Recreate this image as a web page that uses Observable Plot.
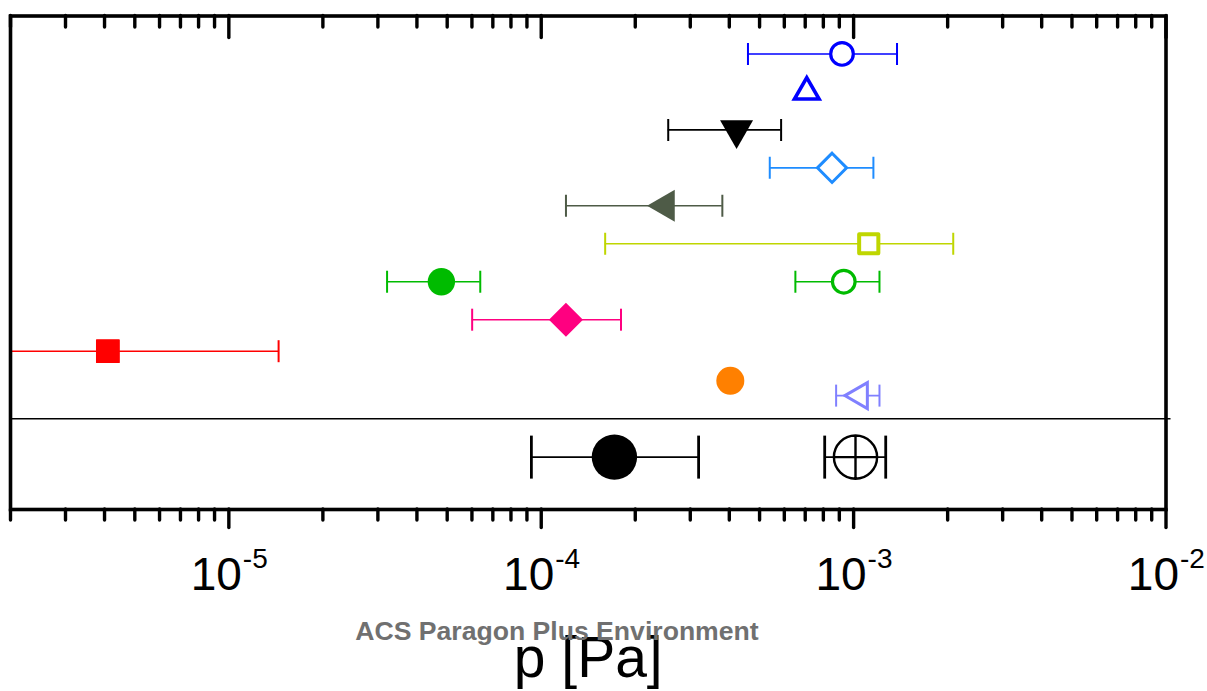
<!DOCTYPE html>
<html>
<head>
<meta charset="utf-8">
<script src="https://cdn.jsdelivr.net/npm/d3@7"></script>
<script src="https://cdn.jsdelivr.net/npm/@observablehq/plot@0.6"></script>
<style>
  html, body { margin: 0; padding: 0; background: #fff; }
  #chart svg { display: block; }
</style>
</head>
<body>
<div id="chart"></div>
<script>
// ---------------- data ----------------
const seriesNames = [
  "blue open circle", "blue open triangle", "black down triangle", "azure open diamond",
  "olive left triangle", "lime open square", "green filled circle", "green open circle",
  "pink filled diamond", "red filled square", "orange filled circle", "lavender open left triangle",
  "black filled circle", "crossed circle"
];
const pressure     = [9.18e-4, 7.08e-4, 4.22e-4, 8.53e-4, 2.50e-4, 1.118e-3, 4.79e-5, 9.30e-4, 1.20e-4, 4.10e-6, 4.03e-4, 1.047e-3, 1.715e-4, 1.014e-3];
const pressureLow  = [4.59e-4, null,    2.55e-4, 5.39e-4, 1.20e-4, 1.602e-4, 3.21e-5, 6.51e-4, 6.01e-5, 1.0e-6,  null,    8.79e-4,  9.30e-5,  8.08e-4];
const pressureHigh = [1.377e-3, null,   5.86e-4, 1.157e-3, 3.80e-4, 2.084e-3, 6.38e-5, 1.21e-3, 1.80e-4, 1.443e-5, null,   1.21e-3,  3.19e-4,  1.267e-3];
const row          = [12, 11, 10, 9, 8, 7, 6, 6, 5, 4.17, 3.39, 3, 1.38, 1.38];
const separatorRow = [2.39];

const majorTicks = [1e-5, 1e-4, 1e-3, 1e-2];
const tickBase = ["10", "10", "10", "10"];
const tickExponents = ["-5", "-4", "-3", "-2"];
const minorMultipliers = [2, 3, 4, 5, 6, 7, 8, 9];
const minorDecades = [1e-6, 1e-5, 1e-4, 1e-3];
const xTitle = "p [Pa]";
const watermark = "ACS Paragon Plus Environment";

// ---------------- symbols ----------------
const R = (size) => Math.sqrt(size / Math.PI);
const capSym = {draw(c, s) { const r = R(s); c.moveTo(0, -r); c.lineTo(0, r); }};
const circleSym = {draw(c, s) { const r = R(s); c.moveTo(r, 0); c.arc(0, 0, r, 0, 2 * Math.PI); c.closePath(); }};
const squareSym = {draw(c, s) { const r = R(s); c.rect(-r, -r, 2 * r, 2 * r); }};
const diamondSym = {draw(c, s) { const r = R(s); c.moveTo(0, -r); c.lineTo(r, 0); c.lineTo(0, r); c.lineTo(-r, 0); c.closePath(); }};
const triUpSym = {draw(c, s) { const r = R(s), h = r * Math.sqrt(3); c.moveTo(0, -2 * h / 3); c.lineTo(r, h / 3); c.lineTo(-r, h / 3); c.closePath(); }};
const triDownSym = {draw(c, s) { const r = R(s), h = r * Math.sqrt(3); c.moveTo(0, 2 * h / 3); c.lineTo(r, -h / 3); c.lineTo(-r, -h / 3); c.closePath(); }};
const triLeftSym = {draw(c, s) { const r = R(s), h = r * Math.sqrt(3); c.moveTo(-2 * h / 3, 0); c.lineTo(h / 3, -r); c.lineTo(h / 3, r); c.closePath(); }};
const circlePlusSym = {draw(c, s) { const r = R(s); c.moveTo(r, 0); c.arc(0, 0, r, 0, 2 * Math.PI); c.closePath(); c.moveTo(0, -r); c.lineTo(0, r); c.moveTo(-r, 0); c.lineTo(r, 0); }};

// styles keyed by series name
const looks = {
  "blue open circle":            {color: "#0000FF", symbol: circleSym,     filled: false, r: 11.3, sw: 3.2, cap: 11},
  "blue open triangle":          {color: "#0000FF", symbol: triUpSym,      filled: false, r: 12.3, sw: 3.6, cap: 11},
  "black down triangle":         {color: "#000000", symbol: triDownSym,    filled: true,  r: 16.5, sw: 0,   cap: 11},
  "azure open diamond":          {color: "#1E8CFF", symbol: diamondSym,    filled: false, r: 14.6, sw: 3.0, cap: 11},
  "olive left triangle":         {color: "#4E5B47", symbol: triLeftSym,    filled: true,  r: 16,   sw: 0,   cap: 11},
  "lime open square":            {color: "#BFD600", symbol: squareSym,     filled: false, r: 9.6,  sw: 4.0, cap: 11, join: "round"},
  "green filled circle":         {color: "#00BB00", symbol: circleSym,     filled: true,  r: 13.7, sw: 0,   cap: 11},
  "green open circle":           {color: "#00BB00", symbol: circleSym,     filled: false, r: 11.3, sw: 3.2, cap: 11},
  "pink filled diamond":         {color: "#FF0080", symbol: diamondSym,    filled: true,  r: 17,   sw: 0,   cap: 11},
  "red filled square":           {color: "#FF0000", symbol: squareSym,     filled: true,  r: 11.3, sw: 1.2, cap: 11, join: "round"},
  "orange filled circle":        {color: "#FF8000", symbol: circleSym,     filled: true,  r: 14,   sw: 0,   cap: 11},
  "lavender open left triangle": {color: "#8080FF", symbol: triLeftSym,    filled: false, r: 13,   sw: 3.0, cap: 11},
  "black filled circle":         {color: "#000000", symbol: circleSym,     filled: true,  r: 22.7, sw: 0,   cap: 21.5, capW: 2.8},
  "crossed circle":              {color: "#000000", symbol: circlePlusSym, filled: false, r: 21.6, sw: 2.4, cap: 21.5, capW: 2.8}
};

const data = seriesNames.map((name, i) => ({
  name, p: pressure[i], lo: pressureLow[i], hi: pressureHigh[i], row: row[i]
}));

const minorTicks = minorDecades.flatMap(d => minorMultipliers.map(m => m * d)).filter(v => v >= 2e-6 && v <= 1e-2);

// ---------------- layout ----------------
const W = 1207, H = 691;
const mTop = 15.5, mBottom = 182, mLeft = 10, mRight = 41.5;
const plotH = H - mTop - mBottom;
const font = "'Liberation Sans', Arial, Helvetica, sans-serif";

const marks = [];

// separator line
marks.push(Plot.ruleY(separatorRow, {y: d => d, stroke: "black", strokeWidth: 1.6, insetRight: -5}));

// error bars + markers
for (const d of data) {
  const L = looks[d.name];
  if (d.lo != null) {
    marks.push(Plot.ruleY([d], {y: "row", x1: "lo", x2: "hi", stroke: L.color, strokeWidth: 1.6, clip: true}));
    marks.push(Plot.dot([d], {x: "lo", y: "row", symbol: capSym, r: L.cap, stroke: L.color, strokeWidth: L.capW || 2, fill: "none", clip: true}));
    marks.push(Plot.dot([d], {x: "hi", y: "row", symbol: capSym, r: L.cap, stroke: L.color, strokeWidth: L.capW || 2, fill: "none", clip: true}));
  }
  marks.push(Plot.dot([d], {
    x: "p", y: "row", symbol: L.symbol, r: L.r,
    fill: L.filled ? L.color : "white",
    stroke: L.sw > 0 ? L.color : "none",
    strokeWidth: L.sw || 0,
    strokeLinejoin: L.join || "miter"
  }));
}

// ticks (top: inward; bottom: outward)
const tickStyle = {stroke: "black", strokeWidth: 3.4, strokeLinecap: "round"};
marks.push(Plot.tickX(minorTicks, {x: d => d, ...tickStyle, insetBottom: plotH - 11.5}));
marks.push(Plot.tickX(majorTicks, {x: d => d, ...tickStyle, insetBottom: plotH - 22}));
marks.push(Plot.tickX(minorTicks, {x: d => d, ...tickStyle, insetTop: plotH, insetBottom: -11}));
marks.push(Plot.tickX(majorTicks, {x: d => d, ...tickStyle, insetTop: plotH, insetBottom: -18.5}));

// frame
marks.push(Plot.frame({stroke: "black", strokeWidth: 3.6}));

// tick labels: 10 with superscript exponent
marks.push(Plot.text(majorTicks, {
  x: d => d, text: (d, i) => tickBase[i], frameAnchor: "bottom",
  textAnchor: "end", dx: 13, dy: 80.5, fontSize: 46, fontFamily: font, fill: "black"
}));
marks.push(Plot.text(majorTicks, {
  x: d => d, text: (d, i) => tickExponents[i], frameAnchor: "bottom",
  textAnchor: "start", dx: 14, dy: 58, fontSize: 28, fontFamily: font, fill: "black"
}));

// axis title
marks.push(Plot.text([xTitle], {
  text: d => d, frameAnchor: "bottom", dy: 167, fontSize: 57, fontFamily: font, fill: "black"
}));

// watermark
marks.push(Plot.text([watermark], {
  text: d => d, frameAnchor: "bottom", dx: -31.3, dy: 130.5, fontSize: 26.6,
  fontWeight: "bold", fontFamily: font, fill: "#707070"
}));

const chart = Plot.plot({
  width: W, height: H,
  marginTop: mTop, marginBottom: mBottom, marginLeft: mLeft, marginRight: mRight,
  style: {background: "white", overflow: "visible"},
  x: {type: "log", domain: [2e-6, 1e-2], axis: null},
  y: {domain: [0, 13], axis: null},
  marks
});
document.getElementById("chart").appendChild(chart);
</script>
</body>
</html>
